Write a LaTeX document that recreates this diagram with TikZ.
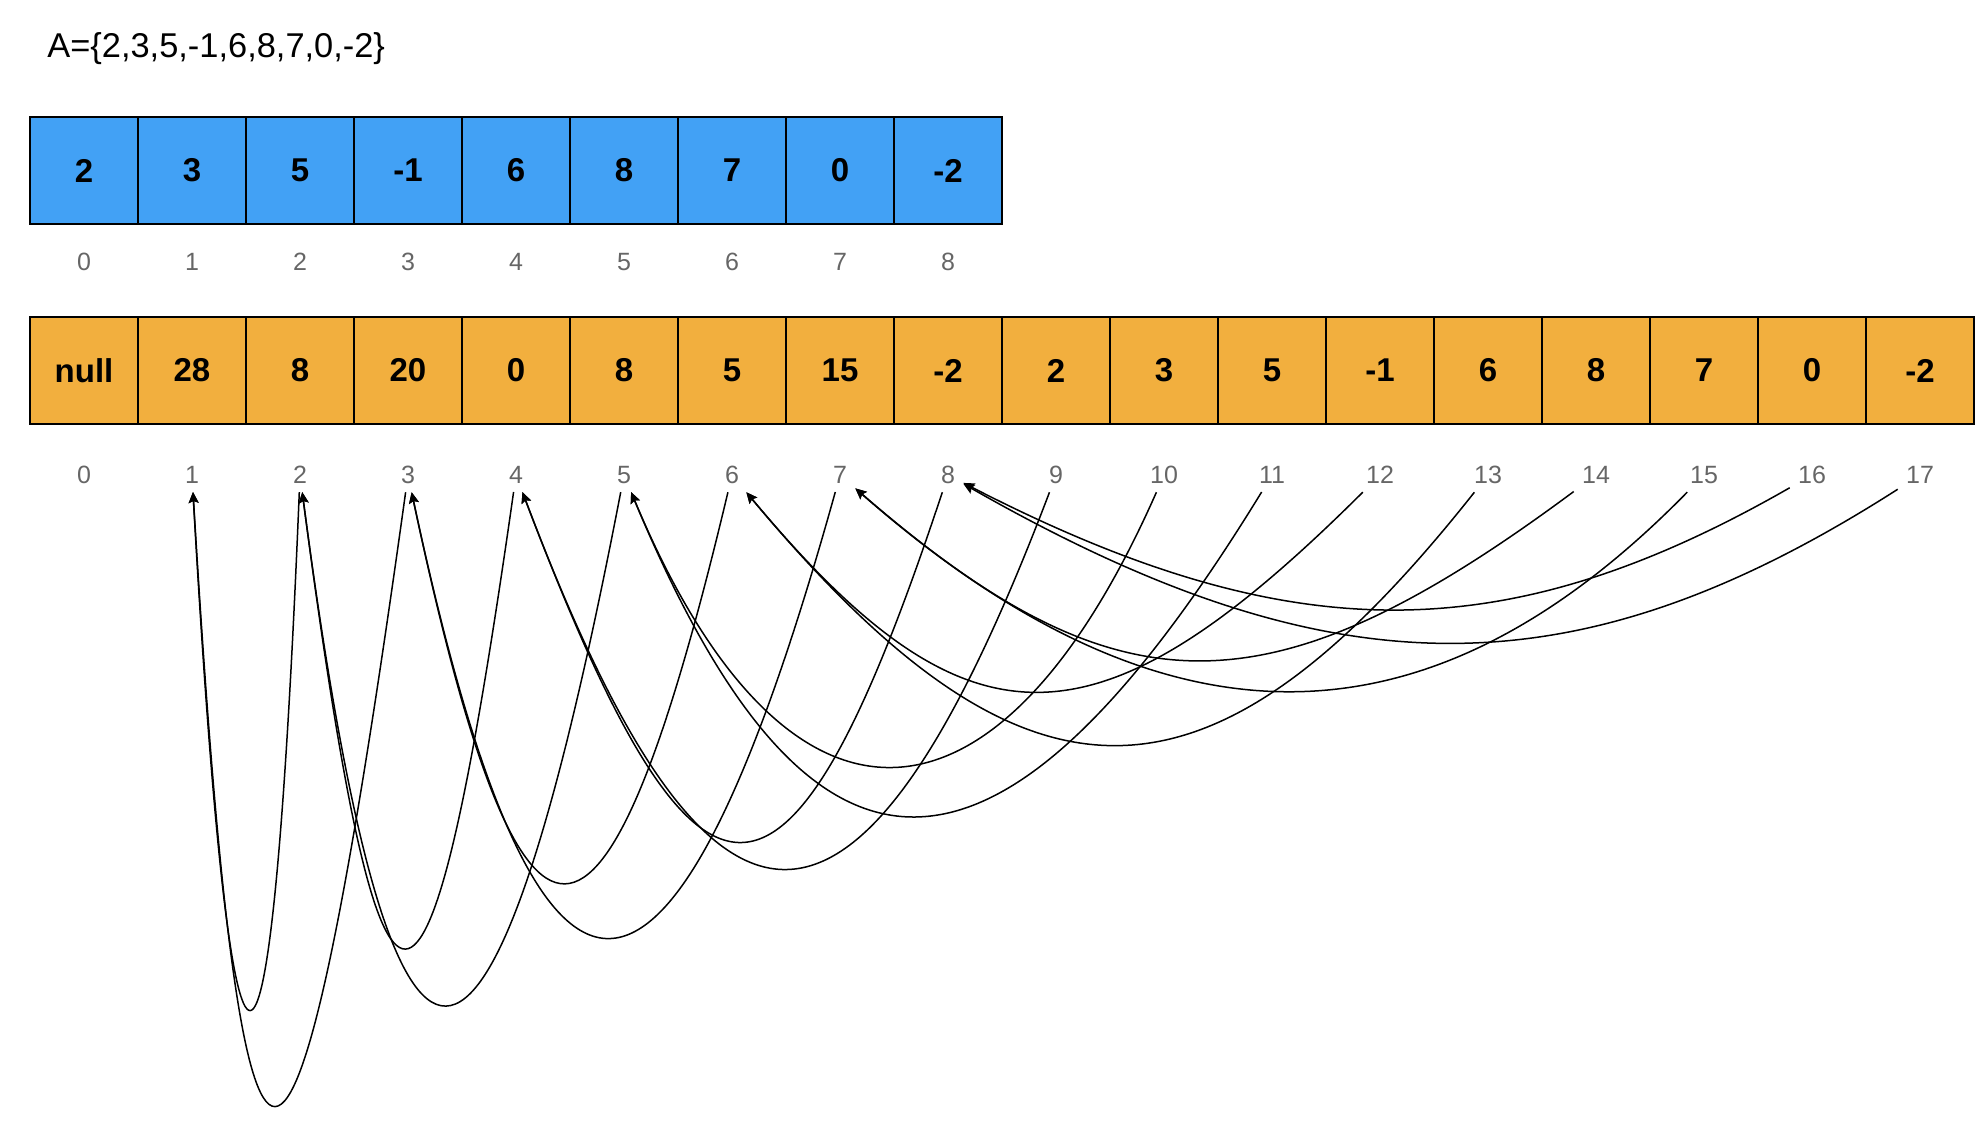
\documentclass[tikz,border=0pt]{standalone}
\usepackage{fontspec}
\setmainfont{Liberation Sans}
\usetikzlibrary{arrows.meta}
\definecolor{cellblue}{RGB}{66,161,245}
\definecolor{cellorange}{RGB}{242,175,62}
\definecolor{idxgray}{RGB}{102,102,102}

\begin{document}
\begin{tikzpicture}[x=0.5pt, y=-0.5pt,
  cell/.style={draw=black, line width=1pt, minimum width=54pt, minimum height=53.5pt, inner sep=0pt, font=\fontsize{16.5}{19}\selectfont\bfseries},
  bluecell/.style={cell, fill=cellblue},
  orangecell/.style={cell, fill=cellorange},
  idx/.style={text=idxgray, inner sep=4pt, font=\fontsize{12.5}{15}\selectfont},
  link/.style={line width=0.75pt, -{Stealth[length=5.5pt, width=5pt, inset=1pt]}}]
  \useasboundingbox (0,0) rectangle (1988,1126);
  % input array
  \node[anchor=base west, inner sep=0pt, font=\fontsize{17.2}{20}\selectfont] (title) at (47,57) {A=\{2,3,5,-1,6,8,7,0,-2\}};
  \node[bluecell] (arr0) at (84,170.5) {2};
  \node[bluecell] (arr1) at (192,170.5) {3};
  \node[bluecell] (arr2) at (300,170.5) {5};
  \node[bluecell] (arr3) at (408,170.5) {-1};
  \node[bluecell] (arr4) at (516,170.5) {6};
  \node[bluecell] (arr5) at (624,170.5) {8};
  \node[bluecell] (arr6) at (732,170.5) {7};
  \node[bluecell] (arr7) at (840,170.5) {0};
  \node[bluecell] (arr8) at (948,170.5) {-2};
  \node[idx] (ai0) at (84,262) {0};
  \node[idx] (ai1) at (192,262) {1};
  \node[idx] (ai2) at (300,262) {2};
  \node[idx] (ai3) at (408,262) {3};
  \node[idx] (ai4) at (516,262) {4};
  \node[idx] (ai5) at (624,262) {5};
  \node[idx] (ai6) at (732,262) {6};
  \node[idx] (ai7) at (840,262) {7};
  \node[idx] (ai8) at (948,262) {8};
  % segment tree array
  \node[orangecell] (seg0) at (84,370.5) {null};
  \node[orangecell] (seg1) at (192,370.5) {28};
  \node[orangecell] (seg2) at (300,370.5) {8};
  \node[orangecell] (seg3) at (408,370.5) {20};
  \node[orangecell] (seg4) at (516,370.5) {0};
  \node[orangecell] (seg5) at (624,370.5) {8};
  \node[orangecell] (seg6) at (732,370.5) {5};
  \node[orangecell] (seg7) at (840,370.5) {15};
  \node[orangecell] (seg8) at (948,370.5) {-2};
  \node[orangecell] (seg9) at (1056,370.5) {2};
  \node[orangecell] (seg10) at (1164,370.5) {3};
  \node[orangecell] (seg11) at (1272,370.5) {5};
  \node[orangecell] (seg12) at (1380,370.5) {-1};
  \node[orangecell] (seg13) at (1488,370.5) {6};
  \node[orangecell] (seg14) at (1596,370.5) {8};
  \node[orangecell] (seg15) at (1704,370.5) {7};
  \node[orangecell] (seg16) at (1812,370.5) {0};
  \node[orangecell] (seg17) at (1920,370.5) {-2};
  \node[idx] (si0) at (84,475) {0};
  \node[idx] (si1) at (192,475) {1};
  \node[idx] (si2) at (300,475) {2};
  \node[idx] (si3) at (408,475) {3};
  \node[idx] (si4) at (516,475) {4};
  \node[idx] (si5) at (624,475) {5};
  \node[idx] (si6) at (732,475) {6};
  \node[idx] (si7) at (840,475) {7};
  \node[idx] (si8) at (948,475) {8};
  \node[idx] (si9) at (1056,475) {9};
  \node[idx] (si10) at (1164,475) {10};
  \node[idx] (si11) at (1272,475) {11};
  \node[idx] (si12) at (1380,475) {12};
  \node[idx] (si13) at (1488,475) {13};
  \node[idx] (si14) at (1596,475) {14};
  \node[idx] (si15) at (1704,475) {15};
  \node[idx] (si16) at (1812,475) {16};
  \node[idx] (si17) at (1920,475) {17};
  % child to parent links
  \draw[link] (si2) .. controls (271,1182) and (232,1182) .. (si1);
  \draw[link] (si3) .. controls (292,1310) and (242,1310) .. (si1);
  \draw[link] (si4) .. controls (427,1100) and (382,1100) .. (si2);
  \draw[link] (si5) .. controls (489,1176) and (392,1176) .. (si2);
  \draw[link] (si6) .. controls (604,1013) and (522,1013) .. (si3);
  \draw[link] (si7) .. controls (670,1086) and (538,1086) .. (si3);
  \draw[link] (si8) .. controls (788,958) and (699,958) .. (si4);
  \draw[link] (si9) .. controls (859,994) and (712,994) .. (si4);
  \draw[link] (si10) .. controls (995,858) and (784,858) .. (si5);
  \draw[link] (si11) .. controls (997,924) and (811,924) .. (si5);
  \draw[link] (si12) .. controls (1096,758) and (968,758) .. (si6);
  \draw[link] (si13) .. controls (1208,829) and (1027,829) .. (si6);
  \draw[link] (si14) .. controls (1270,717) and (1119,717) .. (si7);
  \draw[link] (si15) .. controls (1427,758) and (1163,758) .. (si7);
  \draw[link] (si16) .. controls (1505,651) and (1290,651) .. (si8);
  \draw[link] (si17) .. controls (1576,695) and (1333,695) .. (si8);
\end{tikzpicture}
\end{document}
